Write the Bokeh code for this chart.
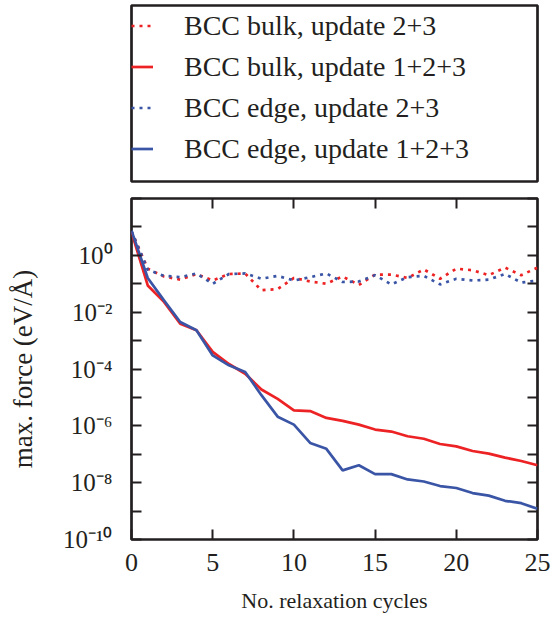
from bokeh.plotting import figure
from bokeh.layouts import column
from bokeh.models import (Range1d, LogAxis, LinearAxis, FixedTicker, CustomJSTickFormatter,
                          Legend, LegendItem)
from bokeh.embed import file_html
from bokeh.resources import INLINE

# Maximum force (eV/Å) after each relaxation cycle
cycles = list(range(26))
bulk_update_23 = [6.9, 0.34, 0.18, 0.14, 0.22, 0.13, 0.22, 0.23, 0.059, 0.065,
                  0.16, 0.12, 0.10, 0.18, 0.091, 0.21, 0.21, 0.16, 0.32, 0.15,
                  0.34, 0.30, 0.20, 0.37, 0.20, 0.37]
bulk_update_123 = [6.6, 8.7e-2, 2.3e-2, 3.9e-3, 2.3e-3, 4.0e-4, 1.5e-4, 6.8e-5, 1.9e-5, 8.9e-6,
                   3.5e-6, 3.3e-6, 1.9e-6, 1.5e-6, 1.1e-6, 7.4e-7, 6.3e-7, 4.3e-7, 3.5e-7, 2.3e-7,
                   1.9e-7, 1.3e-7, 1.05e-7, 7.6e-8, 5.8e-8, 4.1e-8]
edge_update_23 = [7.2, 0.31, 0.19, 0.17, 0.23, 0.10, 0.22, 0.23, 0.15, 0.19,
                  0.13, 0.17, 0.23, 0.115, 0.12, 0.20, 0.095, 0.17, 0.19, 0.095,
                  0.15, 0.13, 0.14, 0.22, 0.11, 0.13]
edge_update_123 = [7.4, 0.16, 2.6e-2, 4.5e-3, 2.3e-3, 3.0e-4, 1.35e-4, 7.8e-5, 1.2e-5, 2.1e-6,
                   1.1e-6, 2.5e-7, 1.55e-7, 2.7e-8, 4.1e-8, 2.0e-8, 2.0e-8, 1.3e-8, 1.1e-8, 7.6e-9,
                   6.5e-9, 4.3e-9, 3.5e-9, 2.3e-9, 1.9e-9, 1.2e-9]

series_labels = ["BCC bulk, update 2+3", "BCC bulk, update 1+2+3",
                 "BCC edge, update 2+3", "BCC edge, update 1+2+3"]
x_ticks = [0, 5, 10, 15, 20, 25]
y_decades = list(range(-10, 3))
y_label_exponents = [0, -2, -4, -6, -8, -10]
y_tick_labels = ["10⁰", "10⁻²", "10⁻⁴", "10⁻⁶", "10⁻⁸", "10⁻¹⁰"]

RED = "#ED2224"
BLUE = "#3A55A5"
INK = "#231F20"
SERIF = "Liberation Serif"
SOLID = dict(line_width=2.7)
DOTTED = dict(line_width=2.7, line_dash="3 5")
styles = [dict(line_color=RED, **DOTTED), dict(line_color=RED, **SOLID),
          dict(line_color=BLUE, **DOTTED), dict(line_color=BLUE, **SOLID)]
series = [bulk_update_23, bulk_update_123, edge_update_23, edge_update_123]

# ---- main plot -------------------------------------------------------------
p = figure(width=553, height=429, output_backend="svg", toolbar_location=None,
           x_range=Range1d(0, 25), y_range=Range1d(1e-10, 1e2), y_axis_type="log",
           min_border_left=131, min_border_right=16, min_border_top=8, min_border_bottom=80,
           background_fill_color="white", border_fill_color="white")
p.grid.visible = False
p.outline_line_color = INK
p.outline_line_width = 2.7
p.outline_line_alpha = 1

blank = CustomJSTickFormatter(code="return ''")


def style_axis(ax):
    ax.axis_line_color = None
    ax.major_tick_in = 10
    ax.major_tick_out = 0
    ax.major_tick_line_color = INK
    ax.major_tick_line_width = 2
    ax.minor_tick_line_color = None


xa = p.xaxis[0]
xa.ticker = FixedTicker(ticks=x_ticks)
style_axis(xa)
xa.major_label_text_font = SERIF
xa.major_label_text_font_size = "26px"
xa.major_label_text_color = INK
xa.major_label_standoff = 14
xa.axis_label = "No. relaxation cycles"
xa.axis_label_text_font = SERIF
xa.axis_label_text_font_size = "22px"
xa.axis_label_text_font_style = "normal"
xa.axis_label_text_color = INK
xa.axis_label_standoff = 14

# left axis: a tick every decade, a label every second decade
ya = p.yaxis[0]
ya.ticker = FixedTicker(ticks=[10.0 ** k for k in y_decades])
ya.formatter = CustomJSTickFormatter(
    args=dict(exps=y_label_exponents, labels=y_tick_labels),
    code="const i = exps.indexOf(Math.round(Math.log10(tick))); return i < 0 ? '' : labels[i];",
)
style_axis(ya)
ya.major_label_text_font = SERIF
ya.major_label_text_font_size = "25px"
ya.major_label_text_color = INK
ya.major_label_standoff = 19
ya.axis_label = "max. force (eV/Å)"
ya.axis_label_text_font = SERIF
ya.axis_label_text_font_size = "27px"
ya.axis_label_text_font_style = "normal"
ya.axis_label_text_color = INK
ya.axis_label_standoff = 22

# mirrored ticks on top and right
top = LinearAxis(ticker=FixedTicker(ticks=x_ticks[1:-1]), formatter=blank)
style_axis(top)
top.major_label_standoff = 0
p.add_layout(top, "above")
right = LogAxis(ticker=FixedTicker(ticks=[10.0 ** k for k in y_decades]), formatter=blank)
style_axis(right)
right.major_label_standoff = 0
p.add_layout(right, "right")

for values, style in zip(series, styles):
    p.line(cycles, values, **style)

# ---- legend box above the plot ---------------------------------------------
lg = figure(width=553, height=190, output_backend="svg", toolbar_location=None,
            x_axis_location=None, y_axis_location=None,
            min_border_left=131, min_border_right=16, min_border_top=5, min_border_bottom=9,
            background_fill_color="white", border_fill_color="white")
lg.grid.visible = False
lg.outline_line_color = INK
lg.outline_line_width = 2.7
lg.outline_line_alpha = 1

# hidden copies of the series: they only lend their line style to the legend keys
keys = [lg.line(cycles, values, visible=False, **style) for values, style in zip(series, styles)]
legend = Legend(
    items=[LegendItem(label=lab, renderers=[k]) for lab, k in zip(series_labels, keys)],
    location="top_left", margin=0, padding=6, spacing=0,
    label_height=41, glyph_height=41, glyph_width=22, label_standoff=31,
    label_text_font=SERIF, label_text_font_size="28px", label_text_color=INK,
    border_line_color=None, background_fill_alpha=0, inactive_fill_alpha=0,
)
lg.add_layout(legend)

layout = column(lg, p, spacing=0)

with open("out.html", "w") as f:
    f.write(file_html(layout, INLINE))
